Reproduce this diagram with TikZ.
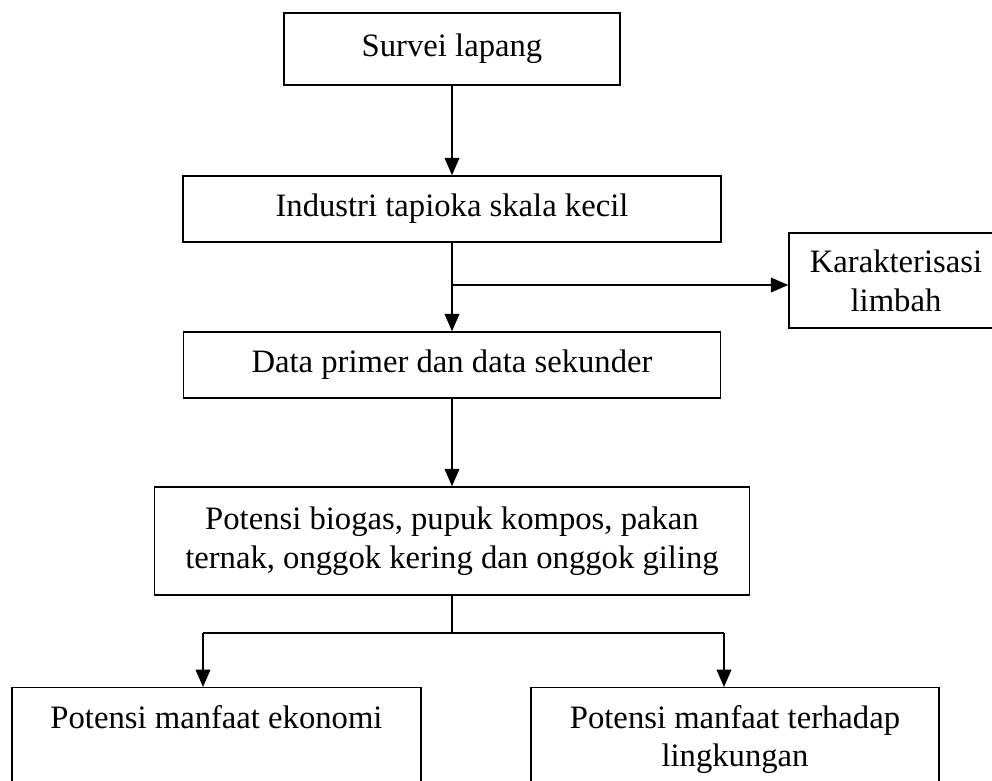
\documentclass[tikz,border=0pt]{standalone}
\usepackage{fontspec}
\setmainfont{Liberation Serif}
\usetikzlibrary{arrows.meta}

\tikzset{
  kotak/.style={draw, line width=1.1pt, align=center, inner sep=0pt,
    font=\fontsize{24.5}{29}\selectfont},
  kotakbawah/.style={kotak, anchor=north, inner ysep=13pt, text depth=90pt},
  panah/.style={line width=1.1pt, -{Triangle[length=13pt,width=11pt]}},
  garis/.style={line width=1.1pt},
}

\begin{document}
\begin{tikzpicture}[x=0.75pt,y=0.75pt,yscale=-1,xscale=1]
\useasboundingbox (0,0) rectangle (992,781);
\clip (0,0) rectangle (992,781);

\node[kotak, minimum width=252pt, minimum height=54pt] (survei) at (452,49) {Survei lapang};
\node[kotak, minimum width=403.5pt, minimum height=49.5pt] (industri) at (452,209) {Industri tapioka skala kecil};
\node[kotak, minimum width=160.5pt, minimum height=71.25pt] (karakter) at (896,280.5) {Karakterisasi\\limbah};
\node[kotak, minimum width=403pt, minimum height=49.5pt] (data) at (452,365) {Data primer dan data sekunder};
\node[kotak, minimum width=446pt, minimum height=81pt] (potensi) at (452,541) {Potensi biogas, pupuk kompos, pakan\\ternak, onggok kering dan onggok giling};
\node[kotakbawah, minimum width=306.75pt] (ekonomi) at (216.5,687) {Potensi manfaat ekonomi};
\node[kotakbawah, minimum width=306pt] (lingkungan) at (735,687) {Potensi manfaat terhadap\\lingkungan};

\coordinate (cabang1) at (452,285);
\coordinate (cabang2) at (452,633);
\coordinate (kiri) at (203,633);
\coordinate (kanan) at (724,633);

\draw[panah] (survei) -- (industri);
\draw[panah] (industri) -- (data);
\draw[panah] (cabang1) -- (cabang1 -| karakter.west);
\draw[panah] (data) -- (potensi);
\draw[garis] (potensi) -- (cabang2);
\draw[garis] (kiri) -- (kanan);
\draw[panah] (kiri) -- (kiri |- ekonomi.north);
\draw[panah] (kanan) -- (kanan |- lingkungan.north);
\end{tikzpicture}
\end{document}
